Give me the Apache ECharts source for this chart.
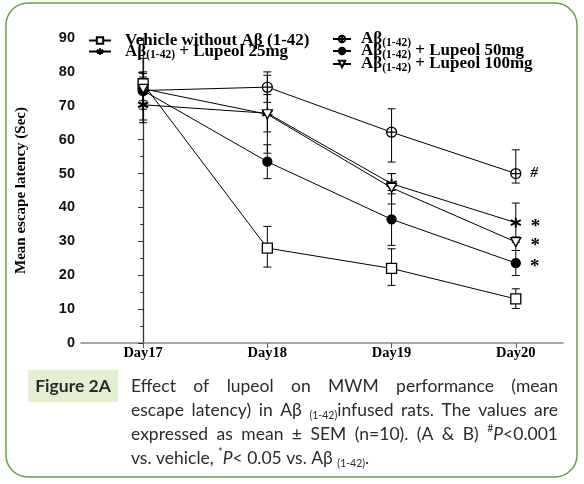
<!DOCTYPE html>
<html><head><meta charset="utf-8">
<script src="https://cdn.jsdelivr.net/npm/echarts@6/dist/echarts.min.js"></script>
<style>html,body{margin:0;padding:0;background:#fff}#c{width:584px;height:484px}</style>
</head><body><div id="c"></div>
<script>
// ---- data ----
const categories = ['Day17', 'Day18', 'Day19', 'Day20'];
const yTicks = [0, 10, 20, 30, 40, 50, 60, 70, 80, 90];

const vehicle     = [76.5, 28.0, 22.0, 13.0];
const vehicleLow  = [73.5, 22.4, 17.0, 10.2];
const vehicleHigh = [79.5, 34.4, 27.8, 16.0];

const abOnly      = [74.5, 75.5, 62.2, 50.0];
const abOnlyLow   = [65.0, 71.0, 53.4, 47.2];
const abOnlyHigh  = [84.0, 80.0, 69.1, 57.0];

const lup25       = [70.3, 67.8, 47.0, 35.5];
const lup25Low    = [65.8, 62.3, 44.0, 29.7];
const lup25High   = [74.8, 73.3, 50.0, 41.3];

const lup50       = [74.5, 53.5, 36.5, 23.6];
const lup50Low    = [69.0, 48.5, 28.8, 19.9];
const lup50High   = [80.0, 58.5, 45.0, 27.3];

const lup100      = [75.0, 67.5, 45.8, 29.8];
const lup100Low   = [71.5, 56.0, 41.0, 27.3];
const lup100High  = [78.5, 79.0, 50.0, 31.3];

const sigMarks = { ab: '#', l25: '*', l50: '*', l100: '*' };

const N_VEH = 'Vehicle without Aβ (1-42)';
const N_AB = 'Aβ(1-42)';
const N_25 = 'Aβ(1-42) + Lupeol 25mg';
const N_50 = 'Aβ(1-42) + Lupeol 50mg';
const N_100 = 'Aβ(1-42) + Lupeol 100mg';

// ---- chart ----
const chart = echarts.init(document.getElementById('c'), null, {renderer: 'canvas'});
const SERIF = '"Liberation Serif", "Times New Roman", serif';
const SANS = '"Liberation Sans", Arial, sans-serif';

function pts(vals, mark) {
  return vals.map((v, i) => {
    if (i === vals.length - 1 && mark) {
      return {value: [i, v], label: {show: true, formatter: mark, position: 'right', distance: 9,
        fontFamily: SERIF, fontWeight: 'bold', fontSize: mark === '#' ? 15 : 19, color: '#000',
        fontStyle: mark === '#' ? 'italic' : 'normal', offset: mark === '*' ? [0, 4] : [0, 0]}};
    }
    return [i, v];
  });
}
function lineSeries(name, vals, symbol, size, fill, mark, bw) {
  return {
    name, type: 'line', data: pts(vals, mark), symbol, symbolSize: size,
    lineStyle: {color: '#000', width: 1}, itemStyle: {color: fill, borderColor: '#000', borderWidth: bw || 1.3},
    z: 3, animation: false, emphasis: {disabled: true}
  };
}
function errSeries(lo, hi) {
  return {
    type: 'custom', silent: true, animation: false, z: 2,
    data: lo.map((l, i) => [i, l, hi[i]]),
    encode: {x: 0, y: [1, 2]},
    renderItem(params, api) {
      const x = api.value(0);
      const a = api.coord([x, api.value(1)]);
      const b = api.coord([x, api.value(2)]);
      const w = 4, st = {stroke: '#000', lineWidth: 1};
      return {type: 'group', children: [
        {type: 'line', shape: {x1: a[0], y1: a[1], x2: b[0], y2: b[1]}, style: st},
        {type: 'line', shape: {x1: a[0] - w, y1: a[1], x2: a[0] + w, y2: a[1]}, style: st},
        {type: 'line', shape: {x1: b[0] - w, y1: b[1], x2: b[0] + w, y2: b[1]}, style: st}
      ]};
    }
  };
}

const circCross = 'path://M10,0 A10,10 0 1,1 10,20 A10,10 0 1,1 10,0 Z M0,10 L20,10 M10,0 L10,20';
const asterisk = 'path://M5,0 L5,10 M0.67,2.5 L9.33,7.5 M0.67,7.5 L9.33,2.5 M3,5 L7,5';
const invTri = 'path://M0,0 L10,0 L5,9 Z';

const legRich = {
  b: {fontFamily: SERIF, fontWeight: 'bold', fontSize: 17, color: '#000', lineHeight: 20, verticalAlign: 'middle'},
  s: {fontFamily: SERIF, fontWeight: 'bold', fontSize: 11.5, color: '#000', lineHeight: 11, verticalAlign: 'bottom'}
};
function legFmt(name) {
  if (name === N_VEH) return '{b|' + name + '}';
  const rest = name.slice('Aβ(1-42)'.length);
  return '{b|Aβ}{s|(1-42)}' + (rest ? '{b|' + rest + '}' : '');
}
function legend(name, left, cy, w, pad) {
  return {data: [name], left, top: cy - 8, itemWidth: w, itemHeight: 8, formatter: legFmt,
    selectedMode: false, padding: 0,
    textStyle: {rich: legRich, padding: [0, 0, 0, pad]}};
}

const option = {
  backgroundColor: '#fff',
  animation: false,
  grid: {left: 81, top: 38, right: 21, bottom: 141, containLabel: false},
  legend: [
    legend(N_VEH, 88, 40, 22, 9),
    legend(N_25, 88, 51, 22, 9),
    legend(N_AB, 332, 38.5, 18, 5),
    legend(N_50, 332, 50.5, 18, 5),
    legend(N_100, 332, 63.5, 18, 5)
  ],
  xAxis: {
    type: 'value', min: -0.5, max: 3.38,
    axisLine: {show: true, lineStyle: {color: '#888', width: 1.5}},
    axisTick: {show: true, customValues: [0, 1, 2, 3], length: 5, lineStyle: {color: '#555'}},
    axisLabel: {customValues: [0, 1, 2, 3], formatter: v => categories[v], margin: 3,
      fontFamily: SERIF, fontWeight: 'bold', fontSize: 14.5, color: '#000'},
    splitLine: {show: false}
  },
  yAxis: {
    type: 'value', min: 0, max: 90, interval: 10,
    name: 'Mean escape latency (Sec)', nameLocation: 'middle', nameGap: 52,
    nameTextStyle: {fontFamily: SERIF, fontWeight: 'bold', fontSize: 15, color: '#000'},
    axisLine: {show: true, lineStyle: {color: '#333', width: 1.3}},
    axisTick: {show: true, length: 5, lineStyle: {color: '#333'}},
    minorTick: {show: true, splitNumber: 2, length: 3, lineStyle: {color: '#333'}},
    axisLabel: {formatter: v => yTicks.includes(v) ? String(v) : '', margin: 6,
      fontFamily: SANS, fontWeight: 'bold', fontSize: 14.5, color: '#111'},
    splitLine: {show: false}
  },
  series: [
    errSeries(vehicleLow, vehicleHigh),
    errSeries(abOnlyLow, abOnlyHigh),
    errSeries(lup25Low, lup25High),
    errSeries(lup50Low, lup50High),
    errSeries(lup100Low, lup100High),
    lineSeries(N_VEH, vehicle, 'rect', 10, '#fff', null),
    lineSeries(N_AB, abOnly, circCross, 10, '#fff', sigMarks.ab),
    lineSeries(N_25, lup25, asterisk, 10, '#000', sigMarks.l25, 2),
    lineSeries(N_50, lup50, 'circle', 9, '#000', sigMarks.l50),
    lineSeries(N_100, lup100, invTri, [10, 9], '#fff', sigMarks.l100)
  ]
};

// ---- caption (justified) ----
const CAP_FONT = 'Lato, "Open Sans", sans-serif';
const CAP_SIZE = 17.5;
const capStyles = {
  n: {size: CAP_SIZE, style: 'normal', dy: 0},
  i: {size: CAP_SIZE, style: 'italic', dy: 0},
  sub: {size: 10.5, style: 'normal', dy: 6},
  sup: {size: 10.5, style: 'normal', dy: -5}
};
const captionLines = [
  {justify: true, words: [[['n','Effect']],[['n','of']],[['n','lupeol']],[['n','on']],[['n','MWM']],[['n','performance']],[['n','(mean']]]},
  {justify: true, words: [[['n','escape']],[['n','latency)']],[['n','in']],[['n','Aβ']],[['sub','(1-42)'],['n','infused']],[['n','rats.']],[['n','The']],[['n','values']],[['n','are']]]},
  {justify: true, words: [[['n','expressed']],[['n','as']],[['n','mean']],[['n','±']],[['n','SEM']],[['n','(n=10).']],[['n','(A']],[['n','&']],[['n','B)']],[['sup','#'],['i','P'],['n','<0.001']]]},
  {justify: false, words: [[['n','vs.']],[['n','vehicle,']],[['sup','*'],['i','P'],['n','<']],[['n','0.05']],[['n','vs.']],[['n','Aβ']],[['sub','(1-42)'],['n','.']]]}
];
const cv = document.createElement('canvas').getContext('2d');
function fontOf(k) { const s = capStyles[k]; return s.style + ' normal ' + s.size + 'px ' + CAP_FONT; }
function segW(seg) { cv.font = fontOf(seg[0]); return cv.measureText(seg[1]).width; }
const graphics = [
  {type: 'rect', shape: {x: 6, y: 3, width: 571, height: 474, r: 22},
   style: {fill: 'none', stroke: '#6ea043', lineWidth: 1.5}, z: 0},
  {type: 'rect', shape: {x: 28, y: 370, width: 90, height: 32}, style: {fill: '#e3efd3'}, z: 1},
  {type: 'text', x: 73, y: 386, style: {text: 'Figure 2A', fill: '#2b2b2b', align: 'center', verticalAlign: 'middle',
    font: 'bold 17.5px ' + CAP_FONT}, z: 2}
];
const X0 = 131, X1 = 558, LINE_Y = [386, 410, 434, 458];
captionLines.forEach((ln, li) => {
  const widths = ln.words.map(w => w.reduce((a, s) => a + segW(s), 0));
  const total = widths.reduce((a, b) => a + b, 0);
  cv.font = fontOf('n');
  const sp = cv.measureText(' ').width;
  const gap = ln.justify ? (X1 - X0 - total) / (ln.words.length - 1) : sp;
  let x = X0;
  ln.words.forEach((w, wi) => {
    let sx = x;
    w.forEach(seg => {
      const st = capStyles[seg[0]];
      graphics.push({type: 'text', x: sx, y: LINE_Y[li] + st.dy, z: 2,
        style: {text: seg[1], fill: '#2b2b2b', align: 'left', verticalAlign: 'middle', font: fontOf(seg[0])}});
      sx += segW(seg);
    });
    x += widths[wi] + gap;
  });
});
option.graphic = graphics;
chart.setOption(option);
</script></body></html>
